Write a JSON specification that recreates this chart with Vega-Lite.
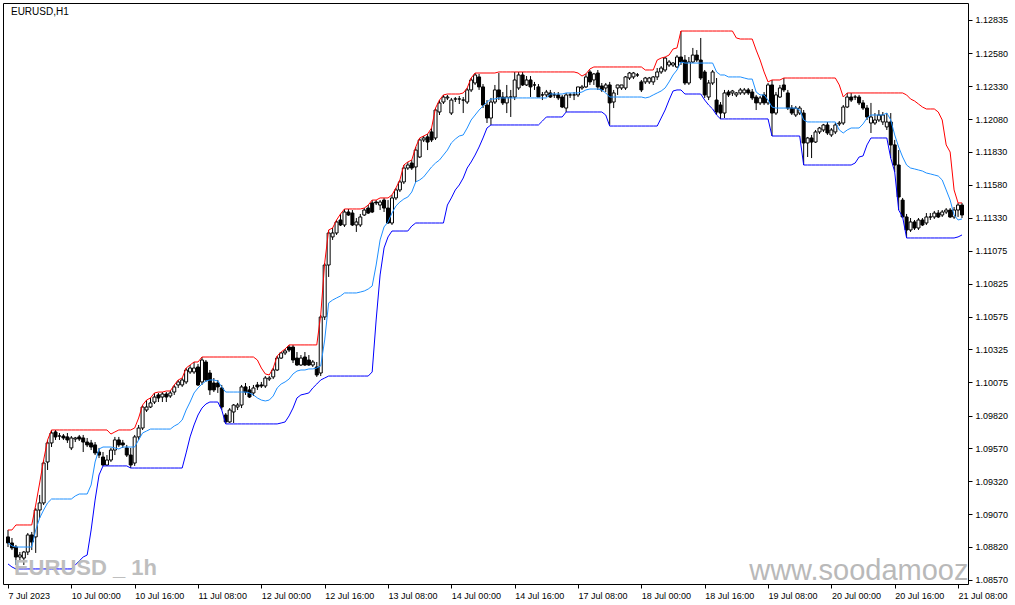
{
"$schema":"https://vega.github.io/schema/vega-lite/v6.json",
"width":965,"height":581,
"autosize":{"type":"none"},
"padding":{"left":3,"top":3,"right":47,"bottom":21},
"background":"white",
"config":{"view":{"stroke":"black","strokeWidth":1},"axis":{"labelFont":"Liberation Sans","labelFontSize":9,"labelColor":"black","tickColor":"black","domain":false,"grid":false,"labelOverlap":false,"labelFlush":false},"axisQuantitative":{"labelOverlap":false}},
"datasets":{"bars":[
{"i":0,"o":1.08896,"h":1.08949,"l":1.08819,"c":1.0885,"u":1.08949,"m":1.0885,"d":1.0869},
{"i":1,"o":1.0885,"h":1.08888,"l":1.08796,"c":1.08812,"u":1.08949,"m":1.08827,"d":1.08667},
{"i":2,"o":1.08819,"h":1.08835,"l":1.08682,"c":1.08743,"u":1.08987,"m":1.08819,"d":1.08652},
{"i":3,"o":1.08743,"h":1.08781,"l":1.0872,"c":1.08758,"u":1.08987,"m":1.08819,"d":1.08652},
{"i":4,"o":1.08735,"h":1.08789,"l":1.08682,"c":1.08781,"u":1.08987,"m":1.08819,"d":1.08652},
{"i":5,"o":1.08781,"h":1.08926,"l":1.08758,"c":1.08911,"u":1.08987,"m":1.08819,"d":1.08652},
{"i":6,"o":1.08911,"h":1.08934,"l":1.08796,"c":1.08857,"u":1.08987,"m":1.08819,"d":1.08652},
{"i":7,"o":1.08896,"h":1.09116,"l":1.08774,"c":1.09101,"u":1.09139,"m":1.08949,"d":1.08652},
{"i":8,"o":1.09101,"h":1.09216,"l":1.0904,"c":1.09155,"u":1.09307,"m":1.0904,"d":1.08652},
{"i":9,"o":1.09155,"h":1.09482,"l":1.09139,"c":1.09459,"u":1.09482,"m":1.09101,"d":1.08652},
{"i":10,"o":1.09467,"h":1.09635,"l":1.09406,"c":1.09612,"u":1.09635,"m":1.09155,"d":1.08652},
{"i":11,"o":1.09612,"h":1.09711,"l":1.09581,"c":1.09688,"u":1.09711,"m":1.09185,"d":1.08652},
{"i":12,"o":1.09696,"h":1.09711,"l":1.09635,"c":1.09658,"u":1.09711,"m":1.09185,"d":1.08652},
{"i":13,"o":1.09665,"h":1.09688,"l":1.09635,"c":1.09665,"u":1.09711,"m":1.09185,"d":1.08652},
{"i":14,"o":1.09665,"h":1.0968,"l":1.09635,"c":1.0965,"u":1.09711,"m":1.09185,"d":1.08652},
{"i":15,"o":1.09658,"h":1.09688,"l":1.09612,"c":1.09635,"u":1.09711,"m":1.09185,"d":1.08652},
{"i":16,"o":1.09574,"h":1.09665,"l":1.09558,"c":1.0965,"u":1.09711,"m":1.09185,"d":1.08652},
{"i":17,"o":1.09642,"h":1.09658,"l":1.09619,"c":1.0965,"u":1.09711,"m":1.09208,"d":1.08682},
{"i":18,"o":1.09658,"h":1.09673,"l":1.09627,"c":1.09642,"u":1.09711,"m":1.09223,"d":1.08713},
{"i":19,"o":1.0965,"h":1.09673,"l":1.09543,"c":1.09619,"u":1.09711,"m":1.09223,"d":1.08743},
{"i":20,"o":1.09619,"h":1.0965,"l":1.09581,"c":1.09597,"u":1.09711,"m":1.09223,"d":1.08758},
{"i":21,"o":1.09612,"h":1.09635,"l":1.09558,"c":1.09581,"u":1.09711,"m":1.09292,"d":1.08949},
{"i":22,"o":1.09597,"h":1.09619,"l":1.0952,"c":1.09536,"u":1.09711,"m":1.09467,"d":1.09177},
{"i":23,"o":1.09543,"h":1.09574,"l":1.09497,"c":1.0952,"u":1.09711,"m":1.09566,"d":1.09368},
{"i":24,"o":1.09505,"h":1.09543,"l":1.09437,"c":1.09444,"u":1.09711,"m":1.09581,"d":1.09437},
{"i":25,"o":1.09444,"h":1.0952,"l":1.09437,"c":1.09482,"u":1.09711,"m":1.09581,"d":1.09437},
{"i":26,"o":1.09482,"h":1.09574,"l":1.09467,"c":1.09558,"u":1.0968,"m":1.09581,"d":1.09437},
{"i":27,"o":1.09558,"h":1.09658,"l":1.0952,"c":1.09635,"u":1.09696,"m":1.09574,"d":1.09437},
{"i":28,"o":1.09635,"h":1.09658,"l":1.09581,"c":1.09597,"u":1.09711,"m":1.09566,"d":1.09437},
{"i":29,"o":1.09612,"h":1.09635,"l":1.09574,"c":1.09597,"u":1.09711,"m":1.09581,"d":1.09437},
{"i":30,"o":1.09574,"h":1.09597,"l":1.09505,"c":1.0952,"u":1.09711,"m":1.09581,"d":1.09437},
{"i":31,"o":1.0952,"h":1.09574,"l":1.09421,"c":1.09444,"u":1.09711,"m":1.09581,"d":1.09421},
{"i":32,"o":1.09459,"h":1.09673,"l":1.09437,"c":1.09658,"u":1.09726,"m":1.09581,"d":1.09421},
{"i":33,"o":1.09658,"h":1.09749,"l":1.09635,"c":1.09726,"u":1.09802,"m":1.09635,"d":1.09421},
{"i":34,"o":1.09726,"h":1.09901,"l":1.09711,"c":1.09886,"u":1.09901,"m":1.09688,"d":1.09421},
{"i":35,"o":1.09863,"h":1.09939,"l":1.09848,"c":1.09886,"u":1.09939,"m":1.09703,"d":1.09421},
{"i":36,"o":1.09886,"h":1.09955,"l":1.09878,"c":1.09917,"u":1.09955,"m":1.09718,"d":1.09421},
{"i":37,"o":1.09924,"h":1.09993,"l":1.09909,"c":1.09962,"u":1.09993,"m":1.09718,"d":1.09421},
{"i":38,"o":1.09978,"h":1.09993,"l":1.09924,"c":1.09955,"u":1.1,"m":1.09718,"d":1.09421},
{"i":39,"o":1.09962,"h":1.1,"l":1.09924,"c":1.09985,"u":1.1,"m":1.09718,"d":1.09421},
{"i":40,"o":1.09985,"h":1.1,"l":1.09924,"c":1.09962,"u":1.10008,"m":1.09718,"d":1.09421},
{"i":41,"o":1.0997,"h":1.10008,"l":1.09955,"c":1.09993,"u":1.10008,"m":1.09718,"d":1.09421},
{"i":42,"o":1.1,"h":1.10054,"l":1.09978,"c":1.10039,"u":1.10054,"m":1.09741,"d":1.09421},
{"i":43,"o":1.10054,"h":1.10092,"l":1.10031,"c":1.10077,"u":1.10092,"m":1.09757,"d":1.09421},
{"i":44,"o":1.10054,"h":1.10107,"l":1.10039,"c":1.10092,"u":1.10107,"m":1.09787,"d":1.09421},
{"i":45,"o":1.10077,"h":1.10183,"l":1.10061,"c":1.10168,"u":1.10183,"m":1.09863,"d":1.09536},
{"i":46,"o":1.10153,"h":1.10206,"l":1.10138,"c":1.10183,"u":1.10206,"m":1.09924,"d":1.09658},
{"i":47,"o":1.10153,"h":1.10229,"l":1.10138,"c":1.10183,"u":1.10229,"m":1.09993,"d":1.09749},
{"i":48,"o":1.10191,"h":1.10214,"l":1.10046,"c":1.10054,"u":1.10229,"m":1.10031,"d":1.09825},
{"i":49,"o":1.10077,"h":1.10267,"l":1.10054,"c":1.10244,"u":1.10267,"m":1.10061,"d":1.09878},
{"i":50,"o":1.10229,"h":1.10244,"l":1.10077,"c":1.10092,"u":1.10267,"m":1.10084,"d":1.09909},
{"i":51,"o":1.10145,"h":1.10168,"l":1.09978,"c":1.10016,"u":1.10267,"m":1.10092,"d":1.09924},
{"i":52,"o":1.10069,"h":1.10107,"l":1.1,"c":1.10016,"u":1.10267,"m":1.10092,"d":1.09924},
{"i":53,"o":1.10069,"h":1.10092,"l":1.09993,"c":1.10039,"u":1.10267,"m":1.10084,"d":1.09924},
{"i":54,"o":1.10031,"h":1.10054,"l":1.09863,"c":1.09886,"u":1.10267,"m":1.10039,"d":1.09863},
{"i":55,"o":1.09825,"h":1.0984,"l":1.09757,"c":1.09772,"u":1.10267,"m":1.1,"d":1.09757},
{"i":56,"o":1.09772,"h":1.09878,"l":1.09764,"c":1.09863,"u":1.10267,"m":1.1,"d":1.09757},
{"i":57,"o":1.09848,"h":1.09909,"l":1.09764,"c":1.09901,"u":1.10267,"m":1.1,"d":1.09757},
{"i":58,"o":1.09886,"h":1.09917,"l":1.09863,"c":1.09901,"u":1.10267,"m":1.1,"d":1.09757},
{"i":59,"o":1.09901,"h":1.10054,"l":1.09878,"c":1.10039,"u":1.10267,"m":1.1,"d":1.09757},
{"i":60,"o":1.10039,"h":1.10069,"l":1.09978,"c":1.1,"u":1.10267,"m":1.1,"d":1.09757},
{"i":61,"o":1.10016,"h":1.10046,"l":1.09955,"c":1.09962,"u":1.10267,"m":1.09993,"d":1.09757},
{"i":62,"o":1.09993,"h":1.10054,"l":1.0997,"c":1.10031,"u":1.10267,"m":1.09978,"d":1.09757},
{"i":63,"o":1.10054,"h":1.10077,"l":1.10016,"c":1.10039,"u":1.10244,"m":1.09955,"d":1.09757},
{"i":64,"o":1.10054,"h":1.10077,"l":1.10031,"c":1.10046,"u":1.10183,"m":1.09939,"d":1.09757},
{"i":65,"o":1.10046,"h":1.10122,"l":1.10031,"c":1.10107,"u":1.10138,"m":1.09932,"d":1.09757},
{"i":66,"o":1.10099,"h":1.10122,"l":1.10084,"c":1.10107,"u":1.1013,"m":1.09939,"d":1.09757},
{"i":67,"o":1.10115,"h":1.10183,"l":1.10099,"c":1.10168,"u":1.10183,"m":1.0997,"d":1.09757},
{"i":68,"o":1.10168,"h":1.10275,"l":1.1016,"c":1.10259,"u":1.10275,"m":1.10031,"d":1.09757},
{"i":69,"o":1.10259,"h":1.10305,"l":1.10252,"c":1.10298,"u":1.10305,"m":1.10061,"d":1.09764},
{"i":70,"o":1.10298,"h":1.10328,"l":1.10282,"c":1.10313,"u":1.10328,"m":1.10077,"d":1.09772},
{"i":71,"o":1.10343,"h":1.10359,"l":1.10305,"c":1.1032,"u":1.10359,"m":1.10099,"d":1.09818},
{"i":72,"o":1.10343,"h":1.10359,"l":1.10221,"c":1.10244,"u":1.10359,"m":1.10138,"d":1.09878},
{"i":73,"o":1.10259,"h":1.10305,"l":1.10199,"c":1.10206,"u":1.10359,"m":1.1016,"d":1.09955},
{"i":74,"o":1.10206,"h":1.10282,"l":1.10199,"c":1.10259,"u":1.10359,"m":1.10168,"d":1.09978},
{"i":75,"o":1.10267,"h":1.10305,"l":1.10199,"c":1.10206,"u":1.10359,"m":1.10168,"d":1.09985},
{"i":76,"o":1.10244,"h":1.10282,"l":1.10199,"c":1.10206,"u":1.10359,"m":1.10176,"d":1.09993},
{"i":77,"o":1.10206,"h":1.10244,"l":1.10191,"c":1.10229,"u":1.10359,"m":1.10176,"d":1.10031},
{"i":78,"o":1.10191,"h":1.10229,"l":1.10115,"c":1.1013,"u":1.10359,"m":1.10183,"d":1.10061},
{"i":79,"o":1.10145,"h":1.10587,"l":1.10122,"c":1.10572,"u":1.10587,"m":1.10199,"d":1.10092},
{"i":80,"o":1.10572,"h":1.10983,"l":1.10549,"c":1.10968,"u":1.10983,"m":1.10397,"d":1.10107},
{"i":81,"o":1.10968,"h":1.11235,"l":1.10877,"c":1.11212,"u":1.11235,"m":1.10679,"d":1.10122},
{"i":82,"o":1.11182,"h":1.1125,"l":1.11159,"c":1.11212,"u":1.1125,"m":1.10701,"d":1.10122},
{"i":83,"o":1.11212,"h":1.11311,"l":1.11197,"c":1.11296,"u":1.11311,"m":1.10717,"d":1.10122},
{"i":84,"o":1.11311,"h":1.11357,"l":1.11265,"c":1.11273,"u":1.11357,"m":1.10732,"d":1.10122},
{"i":85,"o":1.11273,"h":1.11395,"l":1.11258,"c":1.11372,"u":1.11395,"m":1.10755,"d":1.10122},
{"i":86,"o":1.11372,"h":1.11395,"l":1.11342,"c":1.11349,"u":1.11395,"m":1.10755,"d":1.10122},
{"i":87,"o":1.11364,"h":1.11387,"l":1.11265,"c":1.11273,"u":1.11395,"m":1.10755,"d":1.10122},
{"i":88,"o":1.11273,"h":1.11326,"l":1.1122,"c":1.11296,"u":1.11395,"m":1.10755,"d":1.10122},
{"i":89,"o":1.11273,"h":1.11357,"l":1.11258,"c":1.11334,"u":1.11395,"m":1.10762,"d":1.10122},
{"i":90,"o":1.11349,"h":1.11402,"l":1.11342,"c":1.11387,"u":1.11402,"m":1.1077,"d":1.10122},
{"i":91,"o":1.11402,"h":1.11425,"l":1.11357,"c":1.11364,"u":1.11425,"m":1.10785,"d":1.10122},
{"i":92,"o":1.11441,"h":1.11463,"l":1.11364,"c":1.11372,"u":1.11463,"m":1.10808,"d":1.10153},
{"i":93,"o":1.11448,"h":1.11463,"l":1.11425,"c":1.11441,"u":1.11463,"m":1.10968,"d":1.10549},
{"i":94,"o":1.11425,"h":1.11463,"l":1.11387,"c":1.11448,"u":1.11479,"m":1.11159,"d":1.10892},
{"i":95,"o":1.11463,"h":1.11479,"l":1.11372,"c":1.11402,"u":1.11479,"m":1.11258,"d":1.11098},
{"i":96,"o":1.11402,"h":1.11463,"l":1.11281,"c":1.11288,"u":1.11479,"m":1.11296,"d":1.11182},
{"i":97,"o":1.11288,"h":1.11502,"l":1.11273,"c":1.11479,"u":1.11502,"m":1.11364,"d":1.11227},
{"i":98,"o":1.11479,"h":1.11555,"l":1.11463,"c":1.1154,"u":1.11555,"m":1.11418,"d":1.11227},
{"i":99,"o":1.1154,"h":1.11616,"l":1.11524,"c":1.11601,"u":1.11616,"m":1.11448,"d":1.11227},
{"i":100,"o":1.11601,"h":1.1173,"l":1.11585,"c":1.11707,"u":1.1173,"m":1.11471,"d":1.11227},
{"i":101,"o":1.11707,"h":1.11753,"l":1.11692,"c":1.1173,"u":1.11753,"m":1.11486,"d":1.11227},
{"i":102,"o":1.11745,"h":1.11768,"l":1.11692,"c":1.11707,"u":1.11768,"m":1.11524,"d":1.11265},
{"i":103,"o":1.11715,"h":1.11867,"l":1.11601,"c":1.11844,"u":1.11867,"m":1.11601,"d":1.11288},
{"i":104,"o":1.11791,"h":1.11936,"l":1.11783,"c":1.11921,"u":1.11936,"m":1.11616,"d":1.11288},
{"i":105,"o":1.11921,"h":1.11951,"l":1.11905,"c":1.11936,"u":1.11951,"m":1.11639,"d":1.11288},
{"i":106,"o":1.11944,"h":1.11966,"l":1.11844,"c":1.11905,"u":1.11966,"m":1.11677,"d":1.11288},
{"i":107,"o":1.11982,"h":1.12012,"l":1.11905,"c":1.11921,"u":1.12012,"m":1.11715,"d":1.11288},
{"i":108,"o":1.11936,"h":1.12164,"l":1.11921,"c":1.12149,"u":1.12164,"m":1.11745,"d":1.11288},
{"i":109,"o":1.12134,"h":1.12225,"l":1.12111,"c":1.12203,"u":1.12225,"m":1.11768,"d":1.11288},
{"i":110,"o":1.1221,"h":1.12264,"l":1.12195,"c":1.12248,"u":1.12264,"m":1.11806,"d":1.11288},
{"i":111,"o":1.12241,"h":1.12264,"l":1.12225,"c":1.12248,"u":1.12271,"m":1.11844,"d":1.11425},
{"i":112,"o":1.12126,"h":1.12241,"l":1.12111,"c":1.12225,"u":1.12271,"m":1.11898,"d":1.11479},
{"i":113,"o":1.12233,"h":1.12248,"l":1.1221,"c":1.12233,"u":1.12271,"m":1.11928,"d":1.1154},
{"i":114,"o":1.12233,"h":1.12256,"l":1.12195,"c":1.12233,"u":1.12271,"m":1.11951,"d":1.11578},
{"i":115,"o":1.12225,"h":1.12248,"l":1.12126,"c":1.12225,"u":1.12279,"m":1.11959,"d":1.11631},
{"i":116,"o":1.1221,"h":1.12317,"l":1.12195,"c":1.12302,"u":1.12317,"m":1.12012,"d":1.11707},
{"i":117,"o":1.12302,"h":1.12393,"l":1.12286,"c":1.12378,"u":1.12393,"m":1.12073,"d":1.11753},
{"i":118,"o":1.12355,"h":1.12431,"l":1.1234,"c":1.12416,"u":1.12431,"m":1.12111,"d":1.11806},
{"i":119,"o":1.12401,"h":1.12424,"l":1.12302,"c":1.12325,"u":1.12431,"m":1.12149,"d":1.11867},
{"i":120,"o":1.12325,"h":1.12347,"l":1.12164,"c":1.12187,"u":1.12431,"m":1.1218,"d":1.11936},
{"i":121,"o":1.12187,"h":1.12225,"l":1.1205,"c":1.12088,"u":1.12431,"m":1.1221,"d":1.12012},
{"i":122,"o":1.12088,"h":1.12241,"l":1.12035,"c":1.1221,"u":1.12431,"m":1.12233,"d":1.12035},
{"i":123,"o":1.1221,"h":1.1234,"l":1.12195,"c":1.12302,"u":1.12431,"m":1.12233,"d":1.12035},
{"i":124,"o":1.12302,"h":1.12431,"l":1.12225,"c":1.12248,"u":1.12439,"m":1.12241,"d":1.12035},
{"i":125,"o":1.12248,"h":1.12286,"l":1.12187,"c":1.12203,"u":1.12439,"m":1.12241,"d":1.12035},
{"i":126,"o":1.12203,"h":1.1234,"l":1.12126,"c":1.12248,"u":1.12439,"m":1.12241,"d":1.12035},
{"i":127,"o":1.12248,"h":1.12302,"l":1.12096,"c":1.12248,"u":1.12439,"m":1.12241,"d":1.12035},
{"i":128,"o":1.12248,"h":1.12439,"l":1.12225,"c":1.12378,"u":1.12439,"m":1.12241,"d":1.12035},
{"i":129,"o":1.12317,"h":1.12439,"l":1.12302,"c":1.12416,"u":1.12439,"m":1.12241,"d":1.12035},
{"i":130,"o":1.12416,"h":1.12439,"l":1.12332,"c":1.1234,"u":1.12439,"m":1.12241,"d":1.12035},
{"i":131,"o":1.1234,"h":1.12408,"l":1.12332,"c":1.12378,"u":1.12439,"m":1.12241,"d":1.12035},
{"i":132,"o":1.12378,"h":1.12408,"l":1.12248,"c":1.12325,"u":1.12439,"m":1.12241,"d":1.12035},
{"i":133,"o":1.1234,"h":1.12363,"l":1.12302,"c":1.1234,"u":1.12439,"m":1.12241,"d":1.12035},
{"i":134,"o":1.12325,"h":1.12347,"l":1.12248,"c":1.12248,"u":1.12439,"m":1.12241,"d":1.12035},
{"i":135,"o":1.12264,"h":1.12286,"l":1.12225,"c":1.12264,"u":1.12439,"m":1.12241,"d":1.12065},
{"i":136,"o":1.12264,"h":1.12302,"l":1.12248,"c":1.12286,"u":1.12439,"m":1.12241,"d":1.12096},
{"i":137,"o":1.12279,"h":1.12302,"l":1.12241,"c":1.12248,"u":1.12439,"m":1.12271,"d":1.12096},
{"i":138,"o":1.12264,"h":1.12286,"l":1.12241,"c":1.12264,"u":1.12439,"m":1.12271,"d":1.12096},
{"i":139,"o":1.12264,"h":1.12286,"l":1.12225,"c":1.12241,"u":1.12439,"m":1.12271,"d":1.12096},
{"i":140,"o":1.12248,"h":1.12264,"l":1.12164,"c":1.12172,"u":1.12439,"m":1.12271,"d":1.12096},
{"i":141,"o":1.12164,"h":1.12279,"l":1.12134,"c":1.12264,"u":1.12439,"m":1.12279,"d":1.12134},
{"i":142,"o":1.12264,"h":1.12279,"l":1.12241,"c":1.12264,"u":1.12439,"m":1.12279,"d":1.12134},
{"i":143,"o":1.12264,"h":1.12286,"l":1.12225,"c":1.12264,"u":1.12439,"m":1.12279,"d":1.12134},
{"i":144,"o":1.12264,"h":1.12325,"l":1.12248,"c":1.12325,"u":1.12431,"m":1.12279,"d":1.12134},
{"i":145,"o":1.12317,"h":1.1234,"l":1.12302,"c":1.12325,"u":1.12408,"m":1.12286,"d":1.12134},
{"i":146,"o":1.12325,"h":1.12424,"l":1.12317,"c":1.12401,"u":1.12424,"m":1.12302,"d":1.12134},
{"i":147,"o":1.12439,"h":1.12454,"l":1.1234,"c":1.12363,"u":1.12462,"m":1.12309,"d":1.12134},
{"i":148,"o":1.12378,"h":1.12431,"l":1.1234,"c":1.12424,"u":1.12477,"m":1.12309,"d":1.12134},
{"i":149,"o":1.12431,"h":1.12454,"l":1.12302,"c":1.12325,"u":1.12477,"m":1.12309,"d":1.12134},
{"i":150,"o":1.12332,"h":1.12355,"l":1.12286,"c":1.12302,"u":1.12477,"m":1.12302,"d":1.12134},
{"i":151,"o":1.12317,"h":1.12355,"l":1.12286,"c":1.1234,"u":1.12477,"m":1.12279,"d":1.12111},
{"i":152,"o":1.1234,"h":1.12363,"l":1.12035,"c":1.12203,"u":1.12477,"m":1.12248,"d":1.12027},
{"i":153,"o":1.1221,"h":1.12302,"l":1.12164,"c":1.12279,"u":1.12477,"m":1.12248,"d":1.12027},
{"i":154,"o":1.12317,"h":1.1234,"l":1.12264,"c":1.1234,"u":1.12477,"m":1.12248,"d":1.12027},
{"i":155,"o":1.12317,"h":1.1234,"l":1.12302,"c":1.1234,"u":1.12477,"m":1.12248,"d":1.12027},
{"i":156,"o":1.12317,"h":1.12408,"l":1.12302,"c":1.12401,"u":1.12477,"m":1.12248,"d":1.12027},
{"i":157,"o":1.12393,"h":1.12439,"l":1.12378,"c":1.12431,"u":1.12477,"m":1.12248,"d":1.12027},
{"i":158,"o":1.12401,"h":1.12439,"l":1.12385,"c":1.12431,"u":1.12477,"m":1.12248,"d":1.12027},
{"i":159,"o":1.12416,"h":1.12431,"l":1.12401,"c":1.12416,"u":1.12477,"m":1.12248,"d":1.12027},
{"i":160,"o":1.12363,"h":1.12378,"l":1.12286,"c":1.12302,"u":1.12477,"m":1.12248,"d":1.12027},
{"i":161,"o":1.12363,"h":1.12401,"l":1.12347,"c":1.12393,"u":1.12454,"m":1.12241,"d":1.12027},
{"i":162,"o":1.12363,"h":1.12401,"l":1.12347,"c":1.12393,"u":1.12454,"m":1.12248,"d":1.12027},
{"i":163,"o":1.12363,"h":1.12408,"l":1.1234,"c":1.12401,"u":1.12454,"m":1.12264,"d":1.12027},
{"i":164,"o":1.12401,"h":1.12469,"l":1.12378,"c":1.12439,"u":1.1253,"m":1.12279,"d":1.12027},
{"i":165,"o":1.12439,"h":1.12484,"l":1.12424,"c":1.12469,"u":1.12545,"m":1.12294,"d":1.12088},
{"i":166,"o":1.12454,"h":1.12553,"l":1.12439,"c":1.12545,"u":1.12553,"m":1.12317,"d":1.12149},
{"i":167,"o":1.12492,"h":1.1253,"l":1.12477,"c":1.12515,"u":1.12568,"m":1.12363,"d":1.12225},
{"i":168,"o":1.12492,"h":1.12515,"l":1.12477,"c":1.12507,"u":1.12614,"m":1.12416,"d":1.12294},
{"i":169,"o":1.12477,"h":1.12568,"l":1.12469,"c":1.12553,"u":1.12622,"m":1.12454,"d":1.12302},
{"i":170,"o":1.12553,"h":1.12751,"l":1.12492,"c":1.12515,"u":1.12751,"m":1.12515,"d":1.12302},
{"i":171,"o":1.1253,"h":1.12568,"l":1.1234,"c":1.12355,"u":1.12751,"m":1.12507,"d":1.12271},
{"i":172,"o":1.12355,"h":1.12553,"l":1.1234,"c":1.12515,"u":1.12751,"m":1.12507,"d":1.12271},
{"i":173,"o":1.12515,"h":1.12622,"l":1.12507,"c":1.12568,"u":1.12751,"m":1.12507,"d":1.12271},
{"i":174,"o":1.12568,"h":1.12606,"l":1.12515,"c":1.1253,"u":1.12751,"m":1.12507,"d":1.12271},
{"i":175,"o":1.1253,"h":1.12698,"l":1.12378,"c":1.12393,"u":1.12751,"m":1.12507,"d":1.12271},
{"i":176,"o":1.12439,"h":1.12454,"l":1.12241,"c":1.12264,"u":1.12751,"m":1.12507,"d":1.12225},
{"i":177,"o":1.12248,"h":1.12378,"l":1.12225,"c":1.12355,"u":1.12751,"m":1.12507,"d":1.12187},
{"i":178,"o":1.12355,"h":1.12454,"l":1.1234,"c":1.12439,"u":1.12751,"m":1.12507,"d":1.12157},
{"i":179,"o":1.12225,"h":1.12393,"l":1.12111,"c":1.12134,"u":1.12751,"m":1.12439,"d":1.12111},
{"i":180,"o":1.12187,"h":1.1221,"l":1.12081,"c":1.12126,"u":1.12751,"m":1.12416,"d":1.12081},
{"i":181,"o":1.12126,"h":1.12302,"l":1.12088,"c":1.12279,"u":1.12751,"m":1.12416,"d":1.12081},
{"i":182,"o":1.12286,"h":1.12302,"l":1.12248,"c":1.12264,"u":1.12751,"m":1.12401,"d":1.12081},
{"i":183,"o":1.12279,"h":1.12302,"l":1.12256,"c":1.12294,"u":1.12751,"m":1.12401,"d":1.12081},
{"i":184,"o":1.12264,"h":1.12286,"l":1.12248,"c":1.12279,"u":1.12698,"m":1.12401,"d":1.12081},
{"i":185,"o":1.12279,"h":1.12317,"l":1.12264,"c":1.12302,"u":1.1269,"m":1.12401,"d":1.12081},
{"i":186,"o":1.12279,"h":1.12317,"l":1.12264,"c":1.12302,"u":1.1269,"m":1.12393,"d":1.12081},
{"i":187,"o":1.12302,"h":1.12317,"l":1.12264,"c":1.12279,"u":1.1269,"m":1.12385,"d":1.12081},
{"i":188,"o":1.12286,"h":1.12309,"l":1.12225,"c":1.12241,"u":1.1269,"m":1.12385,"d":1.12081},
{"i":189,"o":1.12248,"h":1.12264,"l":1.12149,"c":1.12203,"u":1.12606,"m":1.12286,"d":1.12081},
{"i":190,"o":1.12203,"h":1.12256,"l":1.12187,"c":1.12241,"u":1.1253,"m":1.12264,"d":1.12081},
{"i":191,"o":1.12264,"h":1.12286,"l":1.12187,"c":1.12203,"u":1.12439,"m":1.12264,"d":1.12081},
{"i":192,"o":1.12203,"h":1.12355,"l":1.12187,"c":1.1234,"u":1.12363,"m":1.12225,"d":1.12081},
{"i":193,"o":1.1234,"h":1.12378,"l":1.11951,"c":1.12126,"u":1.12378,"m":1.12172,"d":1.11951},
{"i":194,"o":1.12126,"h":1.12286,"l":1.12111,"c":1.12264,"u":1.12378,"m":1.12164,"d":1.11951},
{"i":195,"o":1.12248,"h":1.1234,"l":1.12241,"c":1.12317,"u":1.12378,"m":1.12164,"d":1.11951},
{"i":196,"o":1.1234,"h":1.12393,"l":1.12286,"c":1.12302,"u":1.12393,"m":1.12164,"d":1.11951},
{"i":197,"o":1.12279,"h":1.12302,"l":1.12149,"c":1.12164,"u":1.12393,"m":1.12164,"d":1.11951},
{"i":198,"o":1.12164,"h":1.12187,"l":1.12111,"c":1.12126,"u":1.12393,"m":1.12164,"d":1.11951},
{"i":199,"o":1.12111,"h":1.1218,"l":1.12096,"c":1.12164,"u":1.12393,"m":1.12164,"d":1.11951},
{"i":200,"o":1.12126,"h":1.1218,"l":1.12111,"c":1.12164,"u":1.12393,"m":1.12149,"d":1.11951},
{"i":201,"o":1.12126,"h":1.12149,"l":1.1173,"c":1.11898,"u":1.12393,"m":1.12073,"d":1.1173},
{"i":202,"o":1.11898,"h":1.11944,"l":1.11791,"c":1.11936,"u":1.12393,"m":1.12058,"d":1.1173},
{"i":203,"o":1.11936,"h":1.11959,"l":1.11783,"c":1.11905,"u":1.12393,"m":1.12058,"d":1.1173},
{"i":204,"o":1.11905,"h":1.11997,"l":1.11898,"c":1.11982,"u":1.12393,"m":1.12058,"d":1.1173},
{"i":205,"o":1.11982,"h":1.1202,"l":1.11966,"c":1.12012,"u":1.12393,"m":1.12058,"d":1.1173},
{"i":206,"o":1.11997,"h":1.12043,"l":1.11982,"c":1.12035,"u":1.12393,"m":1.12058,"d":1.1173},
{"i":207,"o":1.12035,"h":1.12058,"l":1.11959,"c":1.11974,"u":1.12393,"m":1.12058,"d":1.1173},
{"i":208,"o":1.11959,"h":1.12012,"l":1.11944,"c":1.11997,"u":1.12393,"m":1.12058,"d":1.1173},
{"i":209,"o":1.11982,"h":1.1205,"l":1.11966,"c":1.12035,"u":1.12393,"m":1.12058,"d":1.1173},
{"i":210,"o":1.12043,"h":1.12065,"l":1.12027,"c":1.1205,"u":1.1234,"m":1.11997,"d":1.1173},
{"i":211,"o":1.1205,"h":1.12187,"l":1.12035,"c":1.12172,"u":1.12248,"m":1.11974,"d":1.1173},
{"i":212,"o":1.12172,"h":1.12279,"l":1.12164,"c":1.12248,"u":1.12279,"m":1.11997,"d":1.1173},
{"i":213,"o":1.12248,"h":1.12279,"l":1.1221,"c":1.12225,"u":1.12279,"m":1.12012,"d":1.1173},
{"i":214,"o":1.12248,"h":1.12264,"l":1.12225,"c":1.12248,"u":1.12279,"m":1.12012,"d":1.11745},
{"i":215,"o":1.12248,"h":1.12264,"l":1.12187,"c":1.12203,"u":1.12279,"m":1.12012,"d":1.11791},
{"i":216,"o":1.12203,"h":1.12225,"l":1.12149,"c":1.12164,"u":1.12279,"m":1.12043,"d":1.11799},
{"i":217,"o":1.12164,"h":1.12187,"l":1.12073,"c":1.12096,"u":1.12279,"m":1.12088,"d":1.11883},
{"i":218,"o":1.1205,"h":1.12203,"l":1.11974,"c":1.12096,"u":1.12279,"m":1.12111,"d":1.11936},
{"i":219,"o":1.1205,"h":1.12126,"l":1.12035,"c":1.12073,"u":1.12279,"m":1.12111,"d":1.11936},
{"i":220,"o":1.12073,"h":1.12149,"l":1.12058,"c":1.12111,"u":1.12279,"m":1.12111,"d":1.11936},
{"i":221,"o":1.12058,"h":1.12134,"l":1.12035,"c":1.12111,"u":1.12279,"m":1.12111,"d":1.11936},
{"i":222,"o":1.1202,"h":1.12126,"l":1.11997,"c":1.12058,"u":1.12279,"m":1.12126,"d":1.11936},
{"i":223,"o":1.12058,"h":1.12126,"l":1.11783,"c":1.11883,"u":1.12279,"m":1.12073,"d":1.11783},
{"i":224,"o":1.11883,"h":1.11921,"l":1.11677,"c":1.1173,"u":1.12279,"m":1.11959,"d":1.11677},
{"i":225,"o":1.1173,"h":1.11844,"l":1.11387,"c":1.11486,"u":1.12279,"m":1.11867,"d":1.11387},
{"i":226,"o":1.11463,"h":1.11479,"l":1.11334,"c":1.11334,"u":1.12279,"m":1.11791,"d":1.11334},
{"i":227,"o":1.11334,"h":1.11357,"l":1.11174,"c":1.11235,"u":1.12264,"m":1.1173,"d":1.11174},
{"i":228,"o":1.11235,"h":1.11326,"l":1.1122,"c":1.11296,"u":1.12233,"m":1.11707,"d":1.11174},
{"i":229,"o":1.11296,"h":1.11311,"l":1.11235,"c":1.1125,"u":1.12218,"m":1.117,"d":1.11174},
{"i":230,"o":1.1125,"h":1.11326,"l":1.11235,"c":1.11311,"u":1.12195,"m":1.11692,"d":1.11174},
{"i":231,"o":1.11311,"h":1.11326,"l":1.11265,"c":1.11273,"u":1.12172,"m":1.11684,"d":1.11174},
{"i":232,"o":1.11288,"h":1.11364,"l":1.11273,"c":1.11334,"u":1.12157,"m":1.11669,"d":1.11174},
{"i":233,"o":1.11334,"h":1.11364,"l":1.11311,"c":1.11334,"u":1.12157,"m":1.11662,"d":1.11174},
{"i":234,"o":1.11334,"h":1.1138,"l":1.11319,"c":1.11364,"u":1.12157,"m":1.11654,"d":1.11174},
{"i":235,"o":1.11364,"h":1.11387,"l":1.11326,"c":1.11334,"u":1.12134,"m":1.11646,"d":1.11174},
{"i":236,"o":1.11349,"h":1.11387,"l":1.11334,"c":1.11372,"u":1.12073,"m":1.11616,"d":1.11174},
{"i":237,"o":1.11372,"h":1.11402,"l":1.11357,"c":1.11387,"u":1.11883,"m":1.1154,"d":1.11174},
{"i":238,"o":1.11387,"h":1.11402,"l":1.11326,"c":1.11334,"u":1.11829,"m":1.11463,"d":1.11174},
{"i":239,"o":1.11334,"h":1.1141,"l":1.11319,"c":1.11387,"u":1.1154,"m":1.11349,"d":1.11174},
{"i":240,"o":1.11387,"h":1.11441,"l":1.11334,"c":1.11425,"u":1.11441,"m":1.11311,"d":1.11182},
{"i":241,"o":1.11425,"h":1.11441,"l":1.11326,"c":1.11349,"u":1.11441,"m":1.11319,"d":1.11197}
]},
"layer":[
{"data":{"name":"bars"},"mark":{"type":"rule","color":"black","strokeWidth":1,"clip":true},
 "encoding":{
  "x":{"field":"i","type":"quantitative","title":null,"scale":{"domain":[0,241.25],"nice":false,"zero":false},
   "axis":{"orient":"bottom","values":[0,16,32,48,64,80,96,112,128,144,160,176,192,208,224,240],"labelExpr":"['7 Jul 2023','10 Jul 00:00','10 Jul 16:00','11 Jul 08:00','12 Jul 00:00','12 Jul 16:00','13 Jul 08:00','14 Jul 00:00','14 Jul 16:00','17 Jul 08:00','18 Jul 00:00','18 Jul 16:00','19 Jul 08:00','20 Jul 00:00','20 Jul 16:00','21 Jul 08:00'][round(datum.value/16)]","labelAlign":"left","labelBaseline":"top","labelOffset":0,"labelPadding":3,"tickSize":4,"labelFlush":false,"labelOverlap":false}},
  "y":{"field":"l","type":"quantitative","title":null,"scale":{"domain":[1.085373,1.129645],"nice":false,"zero":false},
   "axis":{"orient":"right","values":[1.0857,1.0882,1.0907,1.0932,1.0957,1.0982,1.10075,1.10325,1.10575,1.10825,1.11075,1.1133,1.1158,1.1183,1.1208,1.1233,1.1258,1.12835],"format":".5f","tickSize":4,"labelPadding":3,"labelOverlap":false,"labelFlush":false,"labelSeparation":0}},
  "y2":{"field":"h"}}},
{"data":{"name":"bars"},"mark":{"type":"bar","size":3,"stroke":"black","strokeWidth":1,"clip":true},
 "encoding":{
  "x":{"field":"i","type":"quantitative","title":null,"axis":{"orient":"bottom","values":[0,16,32,48,64,80,96,112,128,144,160,176,192,208,224,240],"labelExpr":"['7 Jul 2023','10 Jul 00:00','10 Jul 16:00','11 Jul 08:00','12 Jul 00:00','12 Jul 16:00','13 Jul 08:00','14 Jul 00:00','14 Jul 16:00','17 Jul 08:00','18 Jul 00:00','18 Jul 16:00','19 Jul 08:00','20 Jul 00:00','20 Jul 16:00','21 Jul 08:00'][round(datum.value/16)]","labelAlign":"left","labelBaseline":"top","labelOffset":0,"labelPadding":3,"tickSize":4,"labelFlush":false,"labelOverlap":false}},
  "y":{"field":"o","type":"quantitative","title":null,"axis":{"orient":"right","values":[1.0857,1.0882,1.0907,1.0932,1.0957,1.0982,1.10075,1.10325,1.10575,1.10825,1.11075,1.1133,1.1158,1.1183,1.1208,1.1233,1.1258,1.12835],"format":".5f","tickSize":4,"labelPadding":3,"labelOverlap":false,"labelFlush":false,"labelSeparation":0}},
  "y2":{"field":"c"},
  "fill":{"condition":{"test":"datum.c > datum.o","value":"white"},"value":"black"}}},
{"data":{"name":"bars"},"mark":{"type":"line","color":"#ff0000","strokeWidth":1,"clip":true},
 "encoding":{"x":{"field":"i","type":"quantitative","title":null,"axis":{"orient":"bottom","values":[0,16,32,48,64,80,96,112,128,144,160,176,192,208,224,240],"labelExpr":"['7 Jul 2023','10 Jul 00:00','10 Jul 16:00','11 Jul 08:00','12 Jul 00:00','12 Jul 16:00','13 Jul 08:00','14 Jul 00:00','14 Jul 16:00','17 Jul 08:00','18 Jul 00:00','18 Jul 16:00','19 Jul 08:00','20 Jul 00:00','20 Jul 16:00','21 Jul 08:00'][round(datum.value/16)]","labelAlign":"left","labelBaseline":"top","labelOffset":0,"labelPadding":3,"tickSize":4,"labelFlush":false,"labelOverlap":false}},"y":{"field":"u","type":"quantitative","title":null,"axis":{"orient":"right","values":[1.0857,1.0882,1.0907,1.0932,1.0957,1.0982,1.10075,1.10325,1.10575,1.10825,1.11075,1.1133,1.1158,1.1183,1.1208,1.1233,1.1258,1.12835],"format":".5f","tickSize":4,"labelPadding":3,"labelOverlap":false,"labelFlush":false,"labelSeparation":0}}}},
{"data":{"name":"bars"},"mark":{"type":"line","color":"#1e90ff","strokeWidth":1,"clip":true},
 "encoding":{"x":{"field":"i","type":"quantitative","title":null,"axis":{"orient":"bottom","values":[0,16,32,48,64,80,96,112,128,144,160,176,192,208,224,240],"labelExpr":"['7 Jul 2023','10 Jul 00:00','10 Jul 16:00','11 Jul 08:00','12 Jul 00:00','12 Jul 16:00','13 Jul 08:00','14 Jul 00:00','14 Jul 16:00','17 Jul 08:00','18 Jul 00:00','18 Jul 16:00','19 Jul 08:00','20 Jul 00:00','20 Jul 16:00','21 Jul 08:00'][round(datum.value/16)]","labelAlign":"left","labelBaseline":"top","labelOffset":0,"labelPadding":3,"tickSize":4,"labelFlush":false,"labelOverlap":false}},"y":{"field":"m","type":"quantitative","title":null,"axis":{"orient":"right","values":[1.0857,1.0882,1.0907,1.0932,1.0957,1.0982,1.10075,1.10325,1.10575,1.10825,1.11075,1.1133,1.1158,1.1183,1.1208,1.1233,1.1258,1.12835],"format":".5f","tickSize":4,"labelPadding":3,"labelOverlap":false,"labelFlush":false,"labelSeparation":0}}}},
{"data":{"name":"bars"},"mark":{"type":"line","color":"#0000ff","strokeWidth":1,"clip":true},
 "encoding":{"x":{"field":"i","type":"quantitative","title":null,"axis":{"orient":"bottom","values":[0,16,32,48,64,80,96,112,128,144,160,176,192,208,224,240],"labelExpr":"['7 Jul 2023','10 Jul 00:00','10 Jul 16:00','11 Jul 08:00','12 Jul 00:00','12 Jul 16:00','13 Jul 08:00','14 Jul 00:00','14 Jul 16:00','17 Jul 08:00','18 Jul 00:00','18 Jul 16:00','19 Jul 08:00','20 Jul 00:00','20 Jul 16:00','21 Jul 08:00'][round(datum.value/16)]","labelAlign":"left","labelBaseline":"top","labelOffset":0,"labelPadding":3,"tickSize":4,"labelFlush":false,"labelOverlap":false}},"y":{"field":"d","type":"quantitative","title":null,"axis":{"orient":"right","values":[1.0857,1.0882,1.0907,1.0932,1.0957,1.0982,1.10075,1.10325,1.10575,1.10825,1.11075,1.1133,1.1158,1.1183,1.1208,1.1233,1.1258,1.12835],"format":".5f","tickSize":4,"labelPadding":3,"labelOverlap":false,"labelFlush":false,"labelSeparation":0}}}},
{"data":{"values":[{"i":0.75,"p":1.12873,"t":"EURUSD,H1"}]},"mark":{"type":"text","align":"left","baseline":"alphabetic","font":"Liberation Sans","fontSize":10,"color":"black"},
 "encoding":{"x":{"field":"i","type":"quantitative","title":null,"axis":{"orient":"bottom","values":[0,16,32,48,64,80,96,112,128,144,160,176,192,208,224,240],"labelExpr":"['7 Jul 2023','10 Jul 00:00','10 Jul 16:00','11 Jul 08:00','12 Jul 00:00','12 Jul 16:00','13 Jul 08:00','14 Jul 00:00','14 Jul 16:00','17 Jul 08:00','18 Jul 00:00','18 Jul 16:00','19 Jul 08:00','20 Jul 00:00','20 Jul 16:00','21 Jul 08:00'][round(datum.value/16)]","labelAlign":"left","labelBaseline":"top","labelOffset":0,"labelPadding":3,"tickSize":4,"labelFlush":false,"labelOverlap":false}},"y":{"field":"p","type":"quantitative","title":null,"axis":{"orient":"right","values":[1.0857,1.0882,1.0907,1.0932,1.0957,1.0982,1.10075,1.10325,1.10575,1.10825,1.11075,1.1133,1.1158,1.1183,1.1208,1.1233,1.1258,1.12835],"format":".5f","tickSize":4,"labelPadding":3,"labelOverlap":false,"labelFlush":false,"labelSeparation":0}},"text":{"field":"t"}}},
{"data":{"values":[{"i":1.5,"p":1.08606,"t":"EURUSD _ 1h"}]},"mark":{"type":"text","align":"left","baseline":"alphabetic","font":"Liberation Sans","fontWeight":"bold","fontSize":22,"color":"#bebebe"},
 "encoding":{"x":{"field":"i","type":"quantitative","title":null,"axis":{"orient":"bottom","values":[0,16,32,48,64,80,96,112,128,144,160,176,192,208,224,240],"labelExpr":"['7 Jul 2023','10 Jul 00:00','10 Jul 16:00','11 Jul 08:00','12 Jul 00:00','12 Jul 16:00','13 Jul 08:00','14 Jul 00:00','14 Jul 16:00','17 Jul 08:00','18 Jul 00:00','18 Jul 16:00','19 Jul 08:00','20 Jul 00:00','20 Jul 16:00','21 Jul 08:00'][round(datum.value/16)]","labelAlign":"left","labelBaseline":"top","labelOffset":0,"labelPadding":3,"tickSize":4,"labelFlush":false,"labelOverlap":false}},"y":{"field":"p","type":"quantitative","title":null,"axis":{"orient":"right","values":[1.0857,1.0882,1.0907,1.0932,1.0957,1.0982,1.10075,1.10325,1.10575,1.10825,1.11075,1.1133,1.1158,1.1183,1.1208,1.1233,1.1258,1.12835],"format":".5f","tickSize":4,"labelPadding":3,"labelOverlap":false,"labelFlush":false,"labelSeparation":0}},"text":{"field":"t"}}},
{"data":{"values":[{"i":187.25,"p":1.08568,"t":"www.soodamooz"}]},"mark":{"type":"text","align":"left","baseline":"alphabetic","font":"Liberation Sans","fontSize":29,"color":"#b9b9b9"},
 "encoding":{"x":{"field":"i","type":"quantitative","title":null,"axis":{"orient":"bottom","values":[0,16,32,48,64,80,96,112,128,144,160,176,192,208,224,240],"labelExpr":"['7 Jul 2023','10 Jul 00:00','10 Jul 16:00','11 Jul 08:00','12 Jul 00:00','12 Jul 16:00','13 Jul 08:00','14 Jul 00:00','14 Jul 16:00','17 Jul 08:00','18 Jul 00:00','18 Jul 16:00','19 Jul 08:00','20 Jul 00:00','20 Jul 16:00','21 Jul 08:00'][round(datum.value/16)]","labelAlign":"left","labelBaseline":"top","labelOffset":0,"labelPadding":3,"tickSize":4,"labelFlush":false,"labelOverlap":false}},"y":{"field":"p","type":"quantitative","title":null,"axis":{"orient":"right","values":[1.0857,1.0882,1.0907,1.0932,1.0957,1.0982,1.10075,1.10325,1.10575,1.10825,1.11075,1.1133,1.1158,1.1183,1.1208,1.1233,1.1258,1.12835],"format":".5f","tickSize":4,"labelPadding":3,"labelOverlap":false,"labelFlush":false,"labelSeparation":0}},"text":{"field":"t"}}}
]
}
